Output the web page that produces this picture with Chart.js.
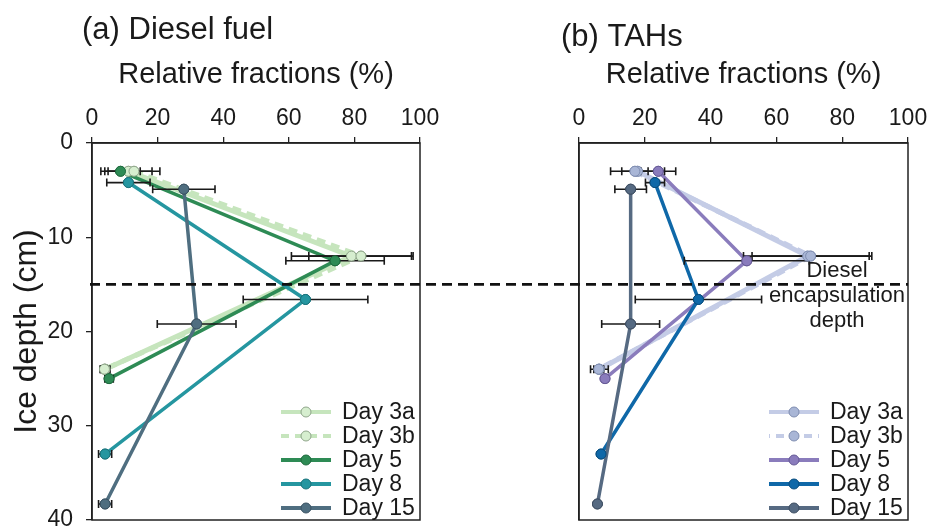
<!DOCTYPE html>
<html>
<head>
<meta charset="utf-8">
<script src="https://cdn.jsdelivr.net/npm/chart.js@4/dist/chart.umd.min.js"></script>
<style>
  html, body { margin: 0; padding: 0; background: #ffffff; }
  #wrap { position: relative; width: 931px; height: 529px; overflow: hidden; }
  #wrap canvas { position: absolute; top: 0; }
</style>
</head>
<body>
<div id="wrap">
  <canvas id="panelA" width="465" height="529" style="left:0px"></canvas>
  <canvas id="panelB" width="466" height="529" style="left:465px"></canvas>
</div>
<script>
// ---- data ----
const seriesLabels = ['Day 3a', 'Day 3b', 'Day 5', 'Day 8', 'Day 15'];
const xTickValues = [0, 20, 40, 60, 80, 100];
const yTickValues = [0, 10, 20, 30, 40];
const encapsulationDepth = 15; // cm

// sampling depths (cm) for each day
const depth3a = [3, 12, 24];
const depth3b = [3, 12, 24];
const depth5  = [3, 12.5, 25];
const depth8  = [4.2, 16.6, 33];
const depth15 = [4.9, 19.2, 38.3];

// (a) diesel fuel: relative fraction (%) and its error
const dieselDay3a = [11.1, 79.1, 4.0];
const dieselErr3a = [7.2, 18.3, 1.5];
const dieselDay3b = [12.8, 82.0, 3.8];
const dieselErr3b = [7.9, 15.9, 1.2];
const dieselDay5  = [8.7, 74.1, 5.2];
const dieselErr5  = [6.0, 15.0, 1.3];
const dieselDay8  = [11.1, 65.1, 4.0];
const dieselErr8  = [6.6, 19.0, 2.0];
const dieselDay15 = [28.0, 31.9, 4.0];
const dieselErr15 = [9.5, 12.0, 2.0];

// (b) TAHs: relative fraction (%) and its error
const tahDay3a = [17.8, 69.5, 6.2];
const tahErr3a = [8.2, 19.5, 2.7];
const tahDay3b = [17.0, 70.4, 6.0];
const tahErr3b = [4.0, 17.8, 1.5];
const tahDay5  = [24.1, 51.0, 7.9];
const tahErr5  = [5.3, 19.0, 0.8];
const tahDay8  = [23.1, 36.3, 6.7];
const tahErr8  = [2.9, 19.2, 0];
const tahDay15 = [15.7, 15.7, 5.6];
const tahErr15 = [4.8, 8.8, 0];

// ---- styling ----
const FONT = "'Liberation Sans', Arial, Helvetica, sans-serif";
const INK = '#1a1a1a';
Chart.defaults.font.family = FONT;
Chart.defaults.color = INK;

const greenStyles = [
  { line: '#c6e5bd', fill: '#d6eecf', edge: '#8fa58a', width: 5, dash: [] },
  { line: '#c6e5bd', fill: '#d6eecf', edge: '#8fa58a', width: 5, dash: [9, 6] },
  { line: '#2e8b55', fill: '#2e8b55', edge: '#1f6a3e', width: 3.5, dash: [] },
  { line: '#2596a0', fill: '#2596a0', edge: '#1b737b', width: 3.5, dash: [] },
  { line: '#4f6e80', fill: '#4f6e80', edge: '#3a5262', width: 3.5, dash: [] }
];
const blueStyles = [
  { line: '#c4cce6', fill: '#a9b6d6', edge: '#7f8db0', width: 5, dash: [] },
  { line: '#c4cce6', fill: '#a9b6d6', edge: '#7f8db0', width: 5, dash: [9, 6] },
  { line: '#8a7cbc', fill: '#8a7cbc', edge: '#665a96', width: 3.5, dash: [] },
  { line: '#0f68a8', fill: '#0f68a8', edge: '#0a4d7d', width: 3.5, dash: [] },
  { line: '#566a82', fill: '#566a82', edge: '#3e4e62', width: 3.5, dash: [] }
];

function buildDatasets(values, errors, depths, styles) {
  return values.map((vals, s) => ({
    label: seriesLabels[s],
    data: vals.map((v, i) => ({ x: v, y: depths[s][i], err: errors[s][i] })),
    showLine: true,
    borderColor: styles[s].line,
    borderWidth: styles[s].width,
    borderDash: styles[s].dash,
    backgroundColor: styles[s].fill,
    pointBackgroundColor: styles[s].fill,
    pointBorderColor: styles[s].edge,
    pointBorderWidth: 1,
    pointRadius: 5,
    pointHoverRadius: 5,
    order: values.length - s
  }));
}

// horizontal error bars, with the markers drawn again on top of them
const errorBars = {
  id: 'errorBars',
  afterDatasetsDraw(chart) {
    const ctx = chart.ctx, xs = chart.scales.x, ys = chart.scales.y;
    ctx.save();
    ctx.strokeStyle = INK;
    ctx.lineWidth = 1.6;
    ctx.setLineDash([]);
    chart.data.datasets.forEach(ds => {
      ds.data.forEach(p => {
        if (!p.err) return;
        const y = ys.getPixelForValue(p.y);
        const x0 = xs.getPixelForValue(p.x - p.err);
        const x1 = xs.getPixelForValue(p.x + p.err);
        ctx.beginPath();
        ctx.moveTo(x0, y); ctx.lineTo(x1, y);
        ctx.moveTo(x0, y - 4); ctx.lineTo(x0, y + 4);
        ctx.moveTo(x1, y - 4); ctx.lineTo(x1, y + 4);
        ctx.stroke();
      });
    });
    ctx.restore();
    chart.data.datasets.forEach((ds, di) => {
      chart.getDatasetMeta(di).data.forEach(pt => pt.draw(ctx, chart.chartArea));
    });
  }
};

// frame, encapsulation line, panel title, legend and note
const decorations = {
  id: 'decorations',
  afterDraw(chart, args, opts) {
    const ctx = chart.ctx, a = chart.chartArea, ys = chart.scales.y;
    ctx.save();
    // box around the plot area
    ctx.strokeStyle = '#222';
    ctx.lineWidth = 1.5;
    ctx.setLineDash([]);
    ctx.strokeRect(a.left, a.top, a.right - a.left, a.bottom - a.top);

    // diesel encapsulation depth
    const yd = ys.getPixelForValue(encapsulationDepth);
    ctx.strokeStyle = '#111';
    ctx.lineWidth = 2.6;
    ctx.setLineDash([10, 6]);
    ctx.lineDashOffset = opts.dashOffset;
    ctx.beginPath();
    ctx.moveTo(opts.lineFrom === 'area' ? a.left - 2 : 0, yd);
    ctx.lineTo(opts.lineTo === 'area' ? a.right : chart.width, yd);
    ctx.stroke();
    ctx.setLineDash([]);

    // panel title
    ctx.fillStyle = INK;
    ctx.font = '31px ' + FONT;
    ctx.textAlign = 'left';
    ctx.textBaseline = 'alphabetic';
    ctx.fillText(opts.title, a.left + opts.titleDx, opts.titleY);

    // legend: line with marker, then label
    ctx.font = '23px ' + FONT;
    ctx.textBaseline = 'middle';
    const lx = a.right - 139;
    chart.data.datasets.forEach((ds, i) => {
      const ly = a.bottom - 108 + i * 24;
      ctx.strokeStyle = ds.borderColor;
      ctx.lineWidth = 4;
      ctx.setLineDash(ds.borderDash.length ? [8, 6] : []);
      ctx.beginPath();
      ctx.moveTo(lx, ly); ctx.lineTo(lx + 50, ly);
      ctx.stroke();
      ctx.setLineDash([]);
      ctx.beginPath();
      ctx.arc(lx + 25, ly, 5, 0, Math.PI * 2);
      ctx.fillStyle = ds.pointBackgroundColor;
      ctx.fill();
      ctx.lineWidth = 1;
      ctx.strokeStyle = ds.pointBorderColor;
      ctx.stroke();
      ctx.fillStyle = INK;
      ctx.fillText(ds.label, lx + 61, ly + 1);
    });

    // note beside the dashed line
    if (opts.note) {
      ctx.textAlign = 'center';
      ctx.font = '22px ' + FONT;
      opts.note.forEach((t, i) => ctx.fillText(t, a.right - 71, yd - 13 + i * 25));
    }
    ctx.restore();
  }
};

function noEdgePadding(s) {
  s.paddingTop = 0; s.paddingBottom = 0; s.paddingLeft = 0; s.paddingRight = 0;
}

function buildOptions(p) {
  return {
    responsive: false,
    animation: false,
    devicePixelRatio: 1,
    layout: { padding: { left: 0, right: p.padRight, top: 0, bottom: 9 } },
    plugins: {
      legend: { display: false },
      tooltip: { enabled: false },
      decorations: p.deco
    },
    scales: {
      x: {
        type: 'linear', position: 'top', min: 0, max: 100,
        afterBuildTicks: s => { s.ticks = xTickValues.map(v => ({ value: v })); },
        afterFit: s => { s.height = 143; noEdgePadding(s); },
        grid: { drawOnChartArea: false, drawTicks: true, tickLength: 6, color: '#222', lineWidth: 1.3 },
        border: { display: true, color: '#222', width: 1.5 },
        ticks: { font: { size: 23 }, color: INK, padding: 5, maxRotation: 0 },
        title: { display: true, text: 'Relative fractions (%)', font: { size: 29 }, color: INK, padding: { top: 58, bottom: 0 } }
      },
      y: {
        type: 'linear', reverse: true, min: 0, max: 40,
        afterBuildTicks: s => { s.ticks = yTickValues.map(v => ({ value: v })); },
        afterFit: s => { s.width = p.axisWidth; noEdgePadding(s); },
        grid: { drawOnChartArea: false, drawTicks: p.showY, tickLength: 6, color: '#222', lineWidth: 1.3 },
        border: { display: true, color: '#222', width: 1.5 },
        ticks: { display: p.showY, font: { size: 23 }, color: INK, padding: 13 },
        title: { display: p.showY, text: 'Ice depth (cm)', font: { size: 32 }, color: INK, padding: { top: 8, bottom: 0 } }
      }
    }
  };
}

const depthsBySeries = [depth3a, depth3b, depth5, depth8, depth15];

new Chart(document.getElementById('panelA'), {
  type: 'scatter',
  data: {
    datasets: buildDatasets(
      [dieselDay3a, dieselDay3b, dieselDay5, dieselDay8, dieselDay15],
      [dieselErr3a, dieselErr3b, dieselErr5, dieselErr8, dieselErr15],
      depthsBySeries, greenStyles)
  },
  options: buildOptions({
    padRight: 45, axisWidth: 92, showY: true,
    deco: { title: '(a) Diesel fuel', titleDx: -10, titleY: 39, lineFrom: 'area', lineTo: 'edge', dashOffset: 0 }
  }),
  plugins: [errorBars, decorations]
});

new Chart(document.getElementById('panelB'), {
  type: 'scatter',
  data: {
    datasets: buildDatasets(
      [tahDay3a, tahDay3b, tahDay5, tahDay8, tahDay15],
      [tahErr3a, tahErr3b, tahErr5, tahErr8, tahErr15],
      depthsBySeries, blueStyles)
  },
  options: buildOptions({
    padRight: 23, axisWidth: 114, showY: false,
    deco: { title: '(b) TAHs', titleDx: -18, titleY: 46, lineFrom: 'edge', lineTo: 'area', dashOffset: 7,
            note: ['Diesel', 'encapsulation', 'depth'] }
  }),
  plugins: [errorBars, decorations]
});
</script>
</body>
</html>
